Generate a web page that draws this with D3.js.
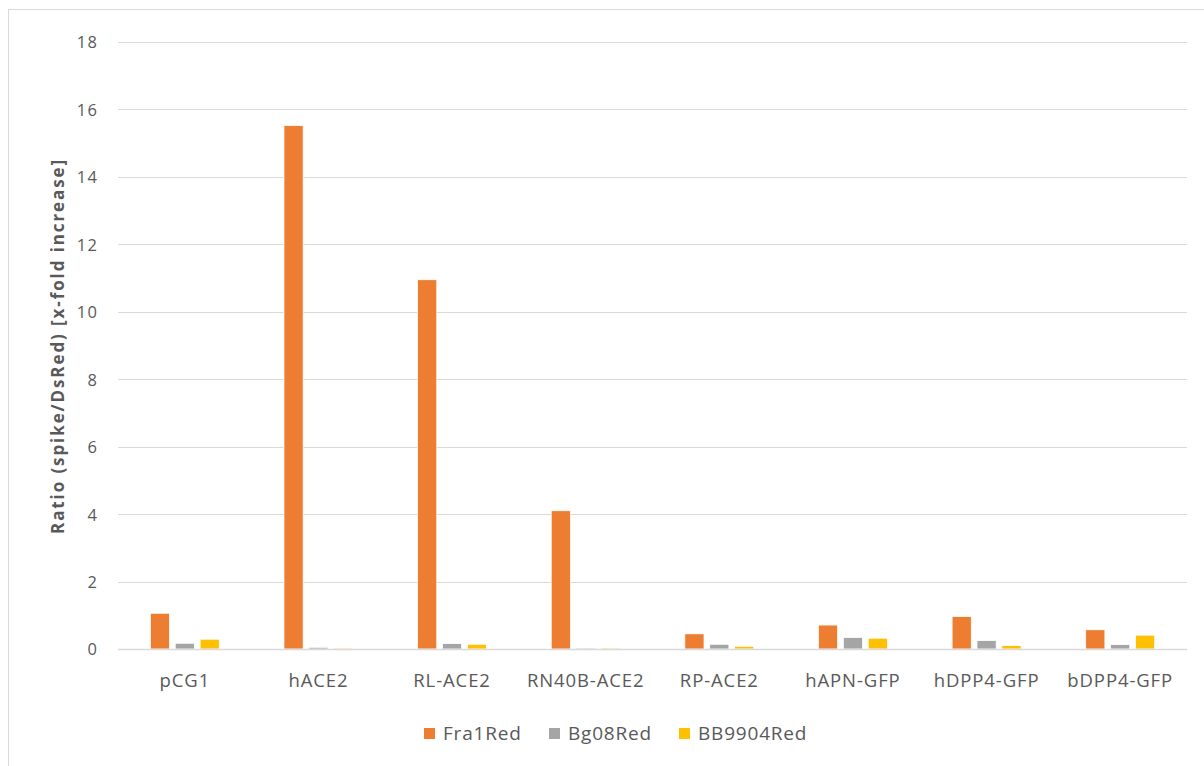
<!DOCTYPE html>
<html><head><meta charset="utf-8">
<script src="https://cdn.jsdelivr.net/npm/d3@7"></script>
<style>
body{margin:0;background:#fff;}
text{font-family:"Open Sans","Noto Sans",sans-serif;fill:#595959;}
</style></head>
<body><svg id="c" width="1204" height="766"></svg>
<script>
const categories = ["pCG1","hACE2","RL-ACE2","RN40B-ACE2","RP-ACE2","hAPN-GFP","hDPP4-GFP","bDPP4-GFP"];
const seriesNames = ["Fra1Red","Bg08Red","BB9904Red"];
const fra1Red   = [1.06, 15.52, 10.95, 4.10, 0.45, 0.71, 0.96, 0.57];
const bg08Red   = [0.17, 0.05, 0.16, 0.03, 0.14, 0.34, 0.25, 0.13];
const bb9904Red = [0.29, 0.03, 0.14, 0.03, 0.08, 0.32, 0.10, 0.41];
const yTicks = [0,2,4,6,8,10,12,14,16,18];
const colors = ["#ED7D31","#A5A5A5","#FFC000"];
const values = [fra1Red, bg08Red, bb9904Red];

const svg = d3.select("#c");
// chart border
svg.append("rect").attr("x",8.5).attr("y",9.5).attr("width",1210).attr("height",780)
  .attr("fill","none").attr("stroke","#D9D9D9");

const m = {left:118, right:1187, top:42, bottom:649};
const x = d3.scaleBand().domain(categories).range([m.left,m.right]).paddingInner(0).paddingOuter(0);
const y = d3.scaleLinear().domain([0,18]).range([m.bottom,m.top]);
const xs = d3.scaleBand().domain(seriesNames).range([0,x.bandwidth()]).paddingInner(0.23).paddingOuter(1.3);

// gridlines
svg.append("g").selectAll("line").data(yTicks).join("line")
  .attr("x1",m.left).attr("x2",m.right)
  .attr("y1",d=>Math.round(y(d))+0.5).attr("y2",d=>Math.round(y(d))+0.5)
  .attr("stroke","#D9D9D9").attr("stroke-width",1);

// y axis labels
const ya = d3.axisLeft(y).tickValues(yTicks).tickSize(0).tickPadding(0);
const gy = svg.append("g").attr("transform",`translate(98.5,0)`).call(ya);
gy.select(".domain").remove();
gy.selectAll("text").style("font-size","16.5px").style("letter-spacing","1.5px")
  .attr("fill","#595959").attr("dy","0.36em");

// bars
const gBars = svg.append("g");
seriesNames.forEach((s,si)=>{
  gBars.append("g").selectAll("rect").data(categories).join("rect")
    .attr("x",c=>x(c)+xs(s))
    .attr("y",(c,i)=>y(values[si][i]))
    .attr("width",xs.bandwidth())
    .attr("height",(c,i)=>y(0)-y(values[si][i]))
    .attr("fill",colors[si])
    .attr("stroke","#fff").attr("stroke-width",0.75);
});

// x axis line
svg.append("line").attr("x1",m.left).attr("x2",m.right).attr("y1",649.5).attr("y2",649.5)
  .attr("stroke","#D9D9D9").attr("stroke-width",1.5);

// x axis labels
const xa = d3.axisBottom(x).tickSize(0).tickPadding(0);
const gx = svg.append("g").attr("transform",`translate(0,681)`).call(xa);
gx.select(".domain").remove();
gx.selectAll("text").style("font-size","18.5px").style("letter-spacing","0.9px")
  .attr("fill","#595959").attr("dy","0.34em").attr("y",0);

// y title
svg.append("text").attr("transform","translate(63.5,346) rotate(-90)")
  .attr("text-anchor","middle").style("font-size","17px").style("font-weight","bold")
  .style("letter-spacing","1.9px")
  .text("Ratio (spike/DsRed) [x-fold increase]");

// legend
const legX = [424, 549, 679];
const lg = svg.append("g");
seriesNames.forEach((s,i)=>{
  lg.append("rect").attr("x",legX[i]).attr("y",728).attr("width",11).attr("height",11).attr("fill",colors[i]);
  lg.append("text").attr("x",legX[i]+19).attr("y",733.5).attr("dy","0.35em")
    .style("font-size","19px").style("letter-spacing","0.8px").text(s);
});
</script></body></html>
